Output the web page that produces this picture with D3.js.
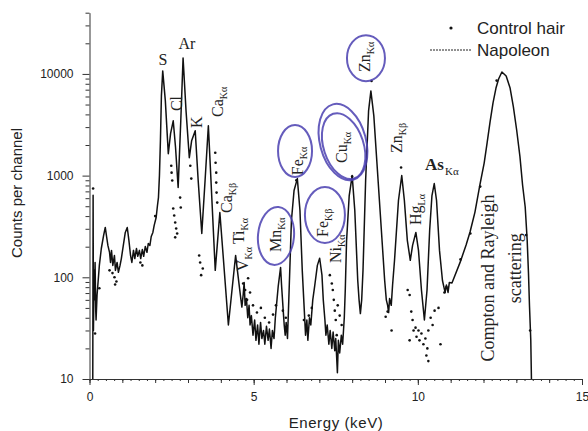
<!DOCTYPE html>
<html>
<head>
<meta charset="utf-8">
<script src="https://cdnjs.cloudflare.com/ajax/libs/d3/7.8.5/d3.min.js"></script>
<style>
  body { margin: 0; background: #fff; }
  svg text { font-family: "Liberation Sans", Arial, sans-serif; fill: #222; }
</style>
</head>
<body>
<script>
// Napoleon spectrum (energy keV / counts per channel)
var napoleonKeV = [
  0.10, 0.11, 0.12, 0.14, 0.15, 0.17, 0.19, 0.20, 0.23, 0.26, 0.30, 0.36, 0.43, 0.48,
  0.52, 0.56, 0.61, 0.64, 0.67, 0.71, 0.76, 0.79, 0.84, 0.88, 0.93, 0.97, 1.03, 1.09,
  1.15, 1.20, 1.25, 1.29, 1.34, 1.38, 1.43, 1.47, 1.52, 1.56, 1.61, 1.65, 1.70, 1.75,
  1.79, 1.84, 1.88, 1.93, 1.97, 2.03, 2.07, 2.10, 2.13, 2.16, 2.19, 2.23, 2.31, 2.40,
  2.47, 2.55, 2.62, 2.70, 2.78, 2.85, 2.94, 3.04, 3.11, 3.22, 3.31, 3.42, 3.52, 3.62,
  3.70, 3.83, 3.97, 4.07, 4.23, 4.34, 4.45, 4.56, 4.64, 4.68, 4.71, 4.74, 4.78, 4.82,
  4.86, 4.89, 4.93, 4.98, 5.03, 5.07, 5.12, 5.16, 5.21, 5.25, 5.30, 5.34, 5.39, 5.44,
  5.48, 5.53, 5.57, 5.62, 5.66, 5.71, 5.75, 5.82, 5.85, 5.90, 5.93, 5.96, 5.99, 6.03,
  6.07, 6.15, 6.23, 6.33, 6.41, 6.48, 6.55, 6.58, 6.62, 6.65, 6.70, 6.74, 6.80, 6.86,
  6.94, 7.01, 7.08, 7.12, 7.17, 7.20, 7.24, 7.29, 7.33, 7.38, 7.42, 7.47, 7.50, 7.55,
  7.58, 7.62, 7.67, 7.71, 7.76, 7.79, 7.83, 7.91, 8.00, 8.08, 8.17, 8.21, 8.25, 8.29,
  8.33, 8.41, 8.50, 8.57, 8.66, 8.75, 8.87, 8.99, 9.04, 9.08, 9.11, 9.14, 9.19, 9.23,
  9.29, 9.41, 9.51, 9.59, 9.68, 9.77, 9.84, 9.94, 10.02, 10.11, 10.20, 10.28, 10.36, 10.43,
  10.50, 10.57, 10.66, 10.75, 10.83, 10.87, 10.92, 10.96, 11.04, 11.29, 11.47, 11.59, 11.74, 11.89,
  12.02, 12.11, 12.20, 12.29, 12.38, 12.46, 12.56, 12.69, 12.81, 12.91, 13.01, 13.11, 13.19, 13.27,
  13.33, 13.37, 13.40, 13.44, 13.46
];
var napoleonCounts = [
  10, 640, 30, 117, 60, 140, 47, 38, 67, 89, 131, 192, 258, 309,
  252, 206, 176, 140, 184, 131, 164, 117, 140, 112, 131, 153, 206, 276,
  309, 231, 164, 140, 184, 153, 192, 161, 184, 153, 188, 161, 201, 176,
  215, 206, 252, 276, 324, 387, 508, 608, 1000, 2200, 6080, 10700, 5430, 1640,
  2600, 3460, 1900, 763, 3460, 14350, 4340, 1500, 2200, 2760, 894, 270, 894, 3090,
  894, 117, 434, 164, 34, 75, 164, 83, 51, 67, 89, 53, 62, 40,
  53, 34, 42, 27, 38, 24, 34, 22, 36, 25, 30, 22, 33, 24,
  31, 20, 30, 25, 40, 60, 83, 125, 83, 47, 34, 27, 36, 25,
  60, 362, 713, 935, 454, 117, 42, 27, 38, 24, 40, 34, 60, 83,
  131, 154, 105, 60, 38, 27, 34, 22, 30, 20, 29, 19, 25, 11.5,
  24, 18, 27, 22, 40, 75, 231, 637, 1000, 454, 93, 60, 44, 60,
  117, 894, 4340, 6810, 3870, 1400, 362, 93, 60, 53, 45, 62, 53, 83,
  147, 569, 1000, 569, 231, 147, 206, 276, 184, 75, 38, 75, 289, 637,
  835, 569, 184, 93, 71, 84, 71, 89, 88, 141, 208, 279, 438, 809,
  1330, 2094, 3370, 5180, 7260, 8910, 10450, 9530, 7260, 4750, 2810, 1535, 809, 491,
  233, 110, 53, 24, 10
];

// Control hair points
var controlKeV = [
  0.11, 0.17, 0.30, 0.61, 0.70, 0.76, 0.82, 0.78, 1.55, 1.61, 2.00, 2.49, 2.50, 2.52,
  2.55, 2.58, 2.61, 2.64, 2.67, 2.61, 2.76, 2.78, 3.07, 3.10, 3.34, 3.37, 3.40, 3.45,
  3.83, 3.84, 3.86, 3.86, 3.87, 3.89, 4.68, 4.74, 4.83, 4.89, 4.80, 4.98, 5.10, 5.22,
  5.34, 5.47, 5.59, 5.68, 5.89, 5.98, 6.30, 6.53, 6.68, 6.77, 7.32, 7.38, 7.41, 7.44,
  7.47, 7.50, 7.56, 7.62, 7.68, 7.53, 8.00, 8.59, 9.02, 9.08, 9.20, 9.49, 9.69, 9.75,
  9.80, 9.84, 9.87, 9.93, 9.96, 10.02, 10.05, 10.11, 10.17, 10.23, 10.29, 10.32, 10.39, 10.45,
  10.51, 10.63, 10.69, 10.26, 10.32, 9.75, 10.81, 10.87, 11.30, 11.60, 11.90, 12.40, 13.30, 13.42
];
var controlCounts = [
  746, 28, 78, 117, 110, 100, 91, 85, 140, 131, 400, 1250, 1070, 894,
  475, 405, 346, 302, 270, 247, 608, 485, 1250, 935, 164, 140, 105, 122,
  1680, 1340, 1070, 854, 681, 543, 87, 75, 98, 71, 60, 53, 45, 50,
  40, 36, 43, 53, 47, 40, 900, 38, 42, 50, 105, 87, 75, 60,
  47, 38, 53, 42, 34, 27, 980, 8530, 41, 46, 30, 1200, 75, 67,
  46, 38, 30, 32, 26, 30, 24, 28, 22, 25, 20, 30, 40, 34,
  47, 50, 22, 17, 15, 24, 71, 80, 150, 270, 780, 8600, 260, 30
];

// Axis ticks
var xMajorTicks = [0, 5, 10, 15];
var yMajorTicks = [10, 100, 1000, 10000];

var width = 588,
  height = 431;

var svg = d3.select('body')
  .append('svg')
  .attr('width', width)
  .attr('height', height)
  .style('background', '#fff');

var xScale = d3.scaleLinear().domain([0, 15]).range([89.5, 582]);
var yScale = d3.scaleLog().domain([10, 40000]).range([379, 12.7]);

// minor tick positions
var yMinorTicks = [];
yMajorTicks.forEach(function(p) {
  for (var k = 2; k <= 9; k++) {
    if (p * k <= 40000) yMinorTicks.push(p * k);
  }
});
var xMinorTicks = d3.range(0, 16, 1);
var xTinyTicks = d3.range(0, 15.01, 0.25);

//Draw axes
var yAxis = svg.append('g')
  .attr('transform', 'translate(89.5,0)')
  .call(d3.axisLeft(yScale).tickValues(yMajorTicks).tickFormat(d3.format('d'))
    .tickSize(7).tickSizeOuter(0).tickPadding(9));

svg.append('g')
  .attr('transform', 'translate(89.5,0)')
  .call(d3.axisLeft(yScale).tickValues(yMinorTicks).tickFormat('').tickSize(4))
  .call(function(g) { g.select('.domain').remove(); });

var xAxis = svg.append('g')
  .attr('transform', 'translate(0,379)')
  .call(d3.axisBottom(xScale).tickValues(xMajorTicks)
    .tickSize(6).tickSizeOuter(0).tickPadding(7));

svg.append('g')
  .attr('transform', 'translate(0,379)')
  .call(d3.axisBottom(xScale).tickValues(xMinorTicks).tickFormat('').tickSize(4))
  .call(function(g) { g.select('.domain').remove(); });

svg.append('g')
  .attr('transform', 'translate(0,379)')
  .call(d3.axisBottom(xScale).tickValues(xTinyTicks).tickFormat('').tickSize(2))
  .call(function(g) { g.select('.domain').remove(); });

svg.selectAll('.domain, .tick line').attr('stroke', '#333').attr('stroke-width', 1);
svg.selectAll('.tick text')
  .style('font-size', '12px')
  .style('font-family', '"Liberation Sans", Arial, sans-serif')
  .attr('fill', '#333');

//Axis titles
svg.append('text')
  .attr('transform', 'translate(22,193) rotate(-90)')
  .attr('text-anchor', 'middle')
  .style('font-size', '15px')
  .text('Counts per channel');

svg.append('text')
  .attr('x', 336)
  .attr('y', 428)
  .attr('text-anchor', 'middle')
  .style('font-size', '15px')
  .style('letter-spacing', '0.6px')
  .text('Energy (keV)');

//Draw spectrum
var napoleon = d3.zip(napoleonKeV, napoleonCounts);
var control = d3.zip(controlKeV, controlCounts);

var line = d3.line()
  .x(function(d) { return xScale(d[0]); })
  .y(function(d) { return yScale(d[1]); });

svg.append('path')
  .datum(napoleon)
  .attr('d', line)
  .attr('fill', 'none')
  .attr('stroke', '#111')
  .attr('stroke-width', 1.5)
  .attr('stroke-linejoin', 'round');

svg.selectAll('circle.ctrl')
  .data(control)
  .enter()
  .append('circle')
  .attr('class', 'ctrl')
  .attr('cx', function(d) { return xScale(d[0]); })
  .attr('cy', function(d) { return yScale(d[1]); })
  .attr('r', 1.3)
  .attr('fill', '#111');

//Peak labels (anchor in keV / counts)
var peakLabels = [
  { main: 'S', sub: '', e: 2.24, c: 12200, rot: false },
  { main: 'Ar', sub: '', e: 2.97, c: 17600, rot: false },
  { main: 'Cl', sub: '', e: 2.82, c: 4310, rot: true },
  { main: 'K', sub: '', e: 3.43, c: 2940, rot: true },
  { main: 'Ca', sub: 'Kα', e: 4.07, c: 3770, rot: true },
  { main: 'Ca', sub: 'Kβ', e: 4.34, c: 429, rot: true },
  { main: 'Ti', sub: 'Kα', e: 4.71, c: 212, rot: true },
  { main: 'V', sub: 'Kα', e: 4.83, c: 115, rot: true },
  { main: 'Mn', sub: 'Kα', e: 5.83, c: 177, rot: true },
  { main: 'Fe', sub: 'Kα', e: 6.50, c: 1010, rot: true },
  { main: 'Fe', sub: 'Kβ', e: 7.26, c: 249, rot: true },
  { main: 'Ni', sub: 'Kα', e: 7.66, c: 138, rot: true },
  { main: 'Cu', sub: 'Kα', e: 7.84, c: 1330, rot: true },
  { main: 'Zn', sub: 'Kα', e: 8.54, c: 10450, rot: true },
  { main: 'Zn', sub: 'Kβ', e: 9.52, c: 1670, rot: true },
  { main: 'Hg', sub: 'Lα', e: 10.10, c: 327, rot: true }
];

peakLabels.forEach(function(a) {
  var px = xScale(a.e), py = yScale(a.c);
  var t = svg.append('text')
    .style('font-family', '"Liberation Serif", "Times New Roman", serif')
    .style('font-size', '16px');
  if (a.rot) {
    t.attr('transform', 'translate(' + px + ',' + py + ') rotate(-90)');
  } else {
    t.attr('x', px).attr('y', py).attr('text-anchor', 'middle');
  }
  t.append('tspan').text(a.main);
  if (a.sub) {
    t.append('tspan').attr('dy', 4).style('font-size', '10px').text(a.sub);
  }
});

// As label (bold, horizontal)
var asText = svg.append('text')
  .attr('x', xScale(10.22))
  .attr('y', yScale(1135))
  .style('font-family', '"Liberation Serif", "Times New Roman", serif');
asText.append('tspan').style('font-size', '17px').style('font-weight', 'bold').text('As');
asText.append('tspan').attr('dx', 1).attr('dy', 5).style('font-size', '11px').text('Kα');

svg.append('text')
  .attr('transform', 'translate(' + xScale(12.32) + ',' + yScale(98.4) + ') rotate(-90)')
  .attr('text-anchor', 'middle')
  .style('font-family', '"Liberation Serif", "Times New Roman", serif')
  .style('font-size', '18px')
  .text('Compton and Rayleigh');

svg.append('text')
  .attr('transform', 'translate(' + xScale(13.14) + ',' + yScale(123) + ') rotate(-90)')
  .attr('text-anchor', 'middle')
  .style('font-family', '"Liberation Serif", "Times New Roman", serif')
  .style('font-size', '18px')
  .text('scattering');

// hand drawn pen circles
var penCircles = [
  { e: 8.42, c: 14300, rx: 19, ry: 23, rot: 0 },
  { e: 7.72, c: 2140, rx: 23, ry: 39, rot: -15 },
  { e: 7.74, c: 1950, rx: 20, ry: 34, rot: -18 },
  { e: 6.26, c: 1745, rx: 17, ry: 26, rot: 0 },
  { e: 7.17, c: 410, rx: 20, ry: 28, rot: 0 },
  { e: 5.68, c: 255, rx: 18, ry: 29, rot: 5 }
];

svg.selectAll('ellipse.pen')
  .data(penCircles)
  .enter()
  .append('ellipse')
  .attr('class', 'pen')
  .attr('transform', function(d) {
    return 'translate(' + xScale(d.e) + ',' + yScale(d.c) + ') rotate(' + d.rot + ')';
  })
  .attr('rx', function(d) { return d.rx; })
  .attr('ry', function(d) { return d.ry; })
  .attr('fill', 'none')
  .attr('stroke', '#4a40b0')
  .attr('stroke-width', 2)
  .attr('opacity', 0.85);

//Legend
svg.append('circle').attr('cx', 451).attr('cy', 28).attr('r', 1.6).attr('fill', '#111');
svg.append('text').attr('x', 477).attr('y', 34).style('font-size', '17px').text('Control hair');
svg.append('line')
  .attr('x1', 430).attr('x2', 472).attr('y1', 50).attr('y2', 50)
  .attr('stroke', '#222').attr('stroke-width', 1).attr('stroke-dasharray', '2,1');
svg.append('text').attr('x', 477).attr('y', 56).style('font-size', '17px').text('Napoleon');
</script>
</body>
</html>
